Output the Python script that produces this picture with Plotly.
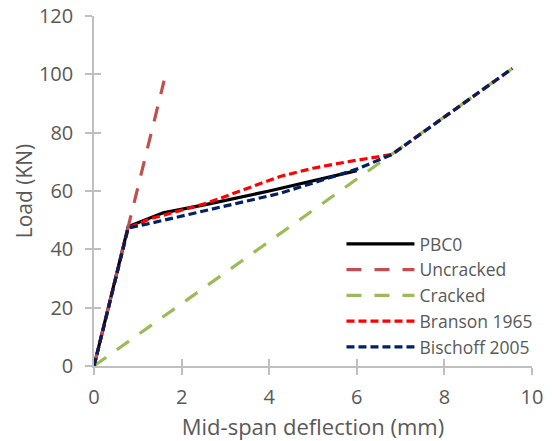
import plotly.graph_objects as go

pbc0_x = [0, 0.78, 1.58, 2.6, 4.0, 6.0]
pbc0_y = [0, 47.8, 52.5, 55.5, 60.0, 67.0]

uncr_x = [0, 1.6]
uncr_y = [0, 97.8]

cr_x = [0, 6.8, 9.55]
cr_y = [0, 72.5, 102.0]

bran_x = [0, 0.78, 1.27, 2.57, 4.25, 5.0, 5.78, 6.55, 6.8, 9.55]
bran_y = [0, 47.3, 50.4, 55.8, 65.0, 67.8, 70.0, 71.8, 72.5, 102.0]

bisc_x = [0, 0.78, 1.28, 2.6, 4.25, 6.0, 6.8, 9.55]
bisc_y = [0, 47.3, 48.9, 53.5, 59.2, 67.5, 72.5, 102.0]

x_ticks = [0, 2, 4, 6, 8, 10]
y_ticks = [0, 20, 40, 60, 80, 100, 120]

FONT = "Open Sans"
GRAY = "#595959"
AX = "#BFBFBF"

fig = go.Figure()
fig.add_trace(go.Scatter(x=pbc0_x, y=pbc0_y, mode="lines", name="PBC0",
                         line=dict(color="#000000", width=3.2)))
fig.add_trace(go.Scatter(x=uncr_x, y=uncr_y, mode="lines", name="Uncracked",
                         line=dict(color="#C0504D", width=3.2, dash="15px,13px")))
fig.add_trace(go.Scatter(x=cr_x, y=cr_y, mode="lines", name="Cracked",
                         line=dict(color="#9BBB59", width=3.2, dash="15px,13px")))
fig.add_trace(go.Scatter(x=bran_x, y=bran_y, mode="lines", name="Branson 1965",
                         line=dict(color="#FF0000", width=3.2, dash="8px,4px")))
fig.add_trace(go.Scatter(x=bisc_x, y=bisc_y, mode="lines", name="Bischoff 2005",
                         line=dict(color="#002060", width=3.2, dash="8px,4px")))

fig.update_layout(
    width=552, height=441,
    margin=dict(l=94, r=20, t=16, b=75),
    paper_bgcolor="white", plot_bgcolor="white",
    font=dict(family=FONT, color=GRAY, size=20),
    showlegend=True,
    legend=dict(x=0.565, y=0.40, xanchor="left", yanchor="top",
                bgcolor="rgba(0,0,0,0)", font=dict(size=17.5, color=GRAY),
                itemwidth=68, tracegroupgap=0),
    xaxis=dict(range=[0, 10], tickvals=x_ticks, showgrid=False, zeroline=False,
               showline=True, linecolor=AX, linewidth=1.5, automargin=False,
               ticks="outside", ticklen=7, tickcolor=AX, tickwidth=1.5,
               ticklabelstandoff=5,
               title=dict(text="Mid-span deflection (mm)", font=dict(size=22, color=GRAY), standoff=12)),
    yaxis=dict(range=[0, 120], tickvals=y_ticks, showgrid=False, zeroline=False,
               showline=True, linecolor=AX, linewidth=1.5, automargin=False,
               ticks="outside", ticklen=7, tickcolor=AX, tickwidth=1.5,
               ticklabelstandoff=8,
               title=dict(text="Load (KN)", font=dict(size=21, color=GRAY), standoff=1)),
    xaxis2=dict(range=[0, 10], tickvals=x_ticks, overlaying="x", anchor="y", side="bottom",
                showgrid=False, zeroline=False, showline=False, showticklabels=False,
                automargin=False,
                ticks="inside", ticklen=7, tickcolor=AX, tickwidth=1.5),
    yaxis2=dict(range=[0, 120], tickvals=y_ticks, overlaying="y", anchor="x", side="left",
                showgrid=False, zeroline=False, showline=False, showticklabels=False,
                automargin=False,
                ticks="inside", ticklen=7, tickcolor=AX, tickwidth=1.5),
)
fig.add_trace(go.Scatter(x=[0], y=[0], xaxis="x2", yaxis="y2", mode="markers",
                         marker=dict(opacity=0), showlegend=False, hoverinfo="skip"))

fig.write_html("out.html")
